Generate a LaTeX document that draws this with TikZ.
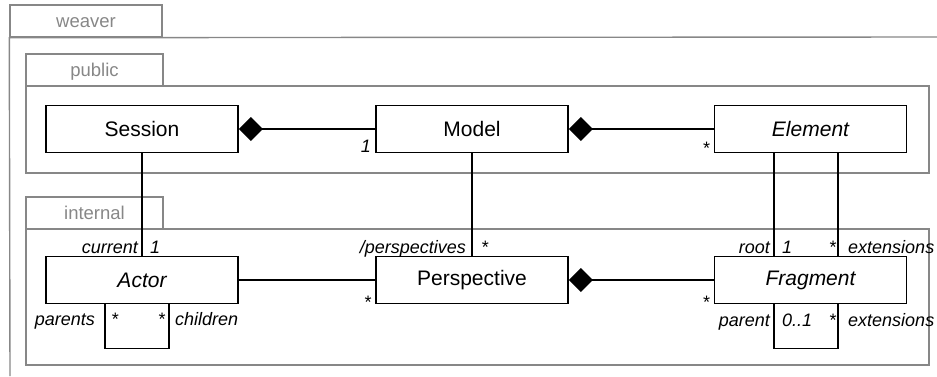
\documentclass[tikz,border=0pt]{standalone}
\usepackage{fontspec}
\setmainfont{Liberation Sans}
\usetikzlibrary{calc, positioning, arrows.meta}
\definecolor{pkggrey}{RGB}{135,135,135}
\newcommand{\classfont}{\fontsize{21}{25}\selectfont}
\newcommand{\rolefont}{\fontsize{18}{21}\selectfont\itshape}
\newcommand{\tabfont}{\fontsize{18.5}{21}\selectfont}
\tikzset{
    classbox/.style={draw=black, line width=1.8pt, fill=white, minimum width=192pt, minimum height=47pt, inner sep=0pt, font=\classfont},
    abstractbox/.style={classbox, font=\classfont\itshape},
    assoc/.style={draw=black, line width=1.6pt},
    compose/.style={assoc, {Diamond[length=24pt, width=24pt]}-},
    pkgline/.style={draw=pkggrey, line width=1.4pt},
    pkgtab/.style={pkgline, minimum height=32pt, inner sep=0pt, text height=13pt, text depth=0pt, text=pkggrey, font=\tabfont},
    role/.style={inner sep=0pt, font=\rolefont}
}
\begin{document}
\begin{tikzpicture}[x=1pt,y=1pt]
    \useasboundingbox (0,0) rectangle (937,376);
    \node[pkgtab, minimum width=152pt] (weavertab) at (86,355) {weaver};
    \draw[pkgline] (10,0) -- (weavertab.south west) -- (937,339);
    \draw[pkgline] (26,290) rectangle (929,203);
    \node[pkgtab, minimum width=137pt] (publictab) at (94.5,306) {public};
    \draw[pkgline] (26,147) rectangle (929,11);
    \node[pkgtab, minimum width=137pt] (internaltab) at (94.5,163) {internal};

    \node[classbox] (session) at (142,247) {Session};
    \node[classbox] (model) at (472,247) {Model};
    \node[abstractbox] (element) at (810.5,247) {Element};
    \node[abstractbox] (actor) at (142,96) {Actor};
    \node[classbox] (perspective) at (472,96) {Perspective};
    \node[abstractbox] (fragment) at (810.5,96) {Fragment};

    \draw[compose] (session) -- (model);
    \draw[compose] (model) -- (element);
    \draw[compose] (perspective) -- (fragment);
    \draw[assoc] (actor) -- (perspective);
    \draw[assoc] (session) -- (actor);
    \draw[assoc] (model) -- (perspective);
    \draw[assoc] ($(element.south)+(-36.5,0)$) -- ($(fragment.north)+(-36.5,0)$);
    \draw[assoc] ($(element.south)+(27.5,0)$) -- ($(fragment.north)+(27.5,0)$);
    \draw[assoc] ($(actor.south)+(-37,0)$) -- ++(0,-44) -- ++(64,0) -- ++(0,44);
    \draw[assoc] ($(fragment.south)+(-36.5,0)$) -- ++(0,-44) -- ++(64,0) -- ++(0,44);

    \node[role, anchor=base east] (modelone) at ($(model.south west)+(-4,1)$) {1};
    \node[role, anchor=base east] (elementmany) at ($(element.south west)+(-4,-1)$) {*};
    \node[role, anchor=base east] (perspmany) at ($(perspective.south west)+(-4,-4)$) {*};
    \node[role, anchor=base east] (fragmany) at ($(fragment.south west)+(-4,-4)$) {*};

    \node[role, anchor=base east] (current) at ($(actor.north)+(-4,2)$) {current};
    \node[role, anchor=base west] (currentone) at ($(actor.north)+(8,2)$) {1};
    \node[role, anchor=base east] (perspectives) at ($(perspective.north)+(-6,2)$) {/perspectives};
    \node[role, anchor=base west] (perspectivesmany) at ($(perspective.north)+(9,2)$) {*};
    \node[role, anchor=base east] (root) at ($(fragment.north)+(-40.5,2)$) {root};
    \node[role, anchor=base west] (rootone) at ($(fragment.north)+(-28.5,2)$) {1};
    \node[role, anchor=base east] (extmany) at ($(fragment.north)+(25.5,2)$) {*};
    \node[role, anchor=base west] (extensions) at ($(fragment.north)+(37.5,2)$) {extensions};

    \node[role, anchor=base east] (parents) at ($(actor.south)+(-47,-21)$) {parents};
    \node[role, anchor=base west] (parentsmany) at ($(actor.south)+(-31,-21)$) {*};
    \node[role, anchor=base east] (childrenmany) at ($(actor.south)+(23,-21)$) {*};
    \node[role, anchor=base west] (children) at ($(actor.south)+(33,-21)$) {children};
    \node[role, anchor=base east] (parent) at ($(fragment.south)+(-40.5,-22)$) {parent};
    \node[role, anchor=base west] (parentopt) at ($(fragment.south)+(-28.5,-22)$) {0..1};
    \node[role, anchor=base east] (subextmany) at ($(fragment.south)+(25.5,-22)$) {*};
    \node[role, anchor=base west] (subextensions) at ($(fragment.south)+(37.5,-22)$) {extensions};
\end{tikzpicture}
\end{document}
